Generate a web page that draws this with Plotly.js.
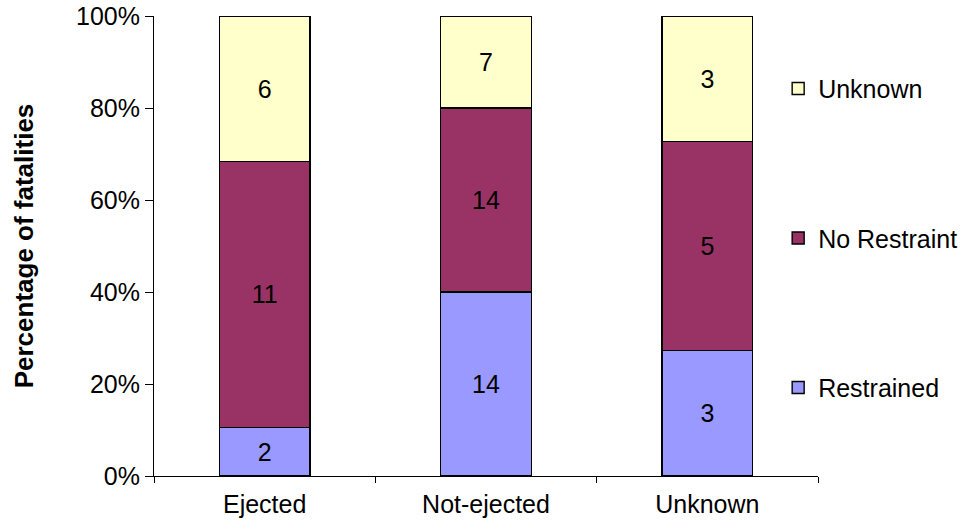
<!DOCTYPE html>
<html>
<head>
<meta charset="utf-8">
<script src="https://cdn.plot.ly/plotly-3.0.1.min.js"></script>
<style>
  html, body { margin: 0; padding: 0; background: #fff; }
  #chart { width: 967px; height: 529px; }
</style>
</head>
<body>
<div id="chart"></div>
<script>
// Fatalities by ejection status, split by restraint use (counts)
const categories = ['Ejected', 'Not-ejected', 'Unknown'];
const restrained = [2, 14, 3];
const noRestraint = [11, 14, 5];
const unknownUse = [6, 7, 3];
const yTickVals = [0, 20, 40, 60, 80, 100];
const yTickText = ['0%', '20%', '40%', '60%', '80%', '100%'];

const FONT = '"Liberation Sans", Arial, sans-serif';
const SIZE = 25;

function series(name, values, color, rank) {
  return {
    type: 'bar',
    name: name,
    x: categories,
    y: values,
    text: values.map(String),
    textposition: 'inside',
    insidetextanchor: 'middle',
    textangle: 0,
    textfont: { family: FONT, size: SIZE, color: '#000' },
    marker: { color: color, line: { color: '#000', width: 1.4 } },
    legendgroup: name,
    legendrank: rank,
    hoverinfo: 'skip'
  };
}

const data = [
  series('Restrained', restrained, '#9999FF', 3),
  series('No Restraint', noRestraint, '#993366', 2),
  series('Unknown', unknownUse, '#FFFFCC', 1)
];

const layout = {
  width: 967,
  height: 529,
  margin: { l: 154, r: 149, t: 16, b: 53, autoexpand: false },
  paper_bgcolor: '#fff',
  plot_bgcolor: '#fff',
  font: { family: FONT, size: SIZE, color: '#000' },
  barmode: 'stack',
  barnorm: 'percent',
  bargap: 0.59,
  showlegend: true,
  legend: {
    x: 0.94, xanchor: 'left',
    y: 0.517, yanchor: 'middle',
    traceorder: 'grouped',
    tracegroupgap: 114,
    font: { family: FONT, size: SIZE, color: '#000' },
    itemwidth: 30
  },
  xaxis: {
    type: 'category',
    showline: true, linecolor: '#000', linewidth: 1,
    ticks: 'outside', tickson: 'boundaries', ticklen: 6, tickcolor: '#000',
    showgrid: false, zeroline: false,
    ticklabelstandoff: 6,
    tickfont: { family: FONT, size: SIZE }
  },
  yaxis: {
    range: [0, 100],
    tickvals: yTickVals, ticktext: yTickText,
    showline: true, linecolor: '#000', linewidth: 1,
    ticks: 'outside', ticklen: 8, tickcolor: '#000',
    showgrid: false, zeroline: false,
    tickfont: { family: FONT, size: SIZE },
    title: { text: 'Percentage of fatalities', font: { family: FONT, size: 26, weight: 'bold' }, standoff: 34 }
  }
};

Plotly.newPlot('chart', data, layout, { staticPlot: true, displayModeBar: false });
</script>
</body>
</html>
